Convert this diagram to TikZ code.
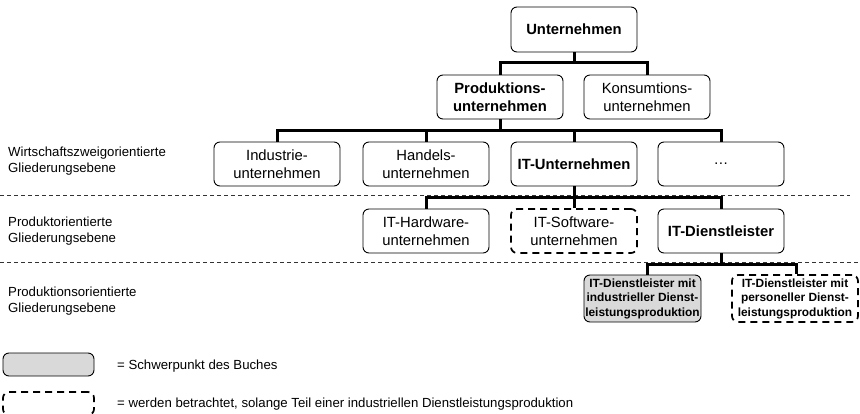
\documentclass[tikz,border=0pt]{standalone}
\usepackage{fontspec}
\setmainfont{Liberation Sans}
\begin{document}
\begin{tikzpicture}[x=1pt,y=-1pt,
  box/.style={draw=black, line width=0.9pt, rounded corners=6pt, align=center, inner sep=0pt,
    minimum width=126pt, minimum height=44pt, font=\fontsize{14.8}{17.5}\selectfont},
  bbox/.style={box, font=\fontsize{14.8}{17.5}\selectfont\bfseries},
  dbox/.style={box, line width=1.7pt, dash pattern=on 7pt off 5pt},
  gbox/.style={box, fill=black!15},
  smallbold/.style={font=\fontsize{11.9}{14.5}\selectfont\bfseries},
  conn/.style={draw=black, line width=3pt},
  sep/.style={draw=black!80, line width=0.9pt, dash pattern=on 4pt off 3pt},
  lvl/.style={anchor=north west, inner sep=0pt, align=left, font=\fontsize{13.2}{15.3}\selectfont},
  legtext/.style={anchor=west, inner sep=0pt, font=\fontsize{13.2}{15}\selectfont}]
\useasboundingbox (0,0) rectangle (860,413);

% separators
\draw[sep] (0,195) -- (850,195);
\draw[sep] (0,262) -- (860,262);

% level labels
\node[lvl] (l1) at (8,147) {Wirtschaftszweigorientierte\\Gliederungsebene};
\node[lvl] (l2) at (8,217) {Produktorientierte\\Gliederungsebene};
\node[lvl] (l3) at (8,287) {Produktionsorientierte\\Gliederungsebene};

% nodes
\node[bbox, minimum height=45pt] (U) at (574,29.5) {Unternehmen};
\node[bbox] (P) at (500,97) {Produktions-\\unternehmen};
\node[box]  (K) at (647,97) {Konsumtions-\\unternehmen};

\node[box]  (I) at (277,164) {Industrie-\\unternehmen};
\node[box]  (H) at (426,164) {Handels-\\unternehmen};
\node[bbox] (IT) at (574,164) {IT-Unternehmen};
\node[box]  (D) at (721,164) {…};

\node[box]  (HW) at (426,231) {IT-Hardware-\\unternehmen};
\node[dbox] (SW) at (574,231) {IT-Software-\\unternehmen};
\node[bbox] (DL) at (721,231) {IT-Dienstleister};

\node[gbox, smallbold, minimum width=117pt, minimum height=47pt] (G) at (642.5,298.5)
  {IT-Dienstleister mit\\industrieller Dienst-\\leistungsproduktion};
\node[dbox, smallbold, minimum height=47pt] (PS) at (795,298.5)
  {IT-Dienstleister mit\\personeller Dienst-\\leistungsproduktion};

% connectors
\coordinate (j1) at (574,62);
\coordinate (j2) at (500,130);
\coordinate (j3) at (574,197);
\coordinate (j4) at (721,264);

\draw[conn] (U.south) -- (j1);
\draw[conn] (P.north) |- (j1) -| (K.north);

\draw[conn] (P.south) -- (j2);
\draw[conn] (I.north) |- (j2) -| (D.north);
\draw[conn] (H.north) -- (H.north |- j2);
\draw[conn] (IT.north) -- (IT.north |- j2);

\draw[conn] (IT.south) -- (j3);
\draw[conn] (HW.north) |- (j3) -| (DL.north);
\draw[conn] (SW.north) -- (SW.north |- j3);

\draw[conn] (DL.south) -- (j4);
\draw[conn] ([xshift=4.5pt]G.north) |- (j4) -| ([xshift=1pt]PS.north);

% legend
\node[gbox, minimum width=91pt, minimum height=23pt] (lg1) at (48.5,364.5) {};
\node[dbox, minimum width=91pt, minimum height=23pt] (lg2) at (48.5,403.5) {};
\node[legtext] (t1) at (117,366) {= Schwerpunkt des Buches};
\node[legtext] (t2) at (117,404) {= werden betrachtet, solange Teil einer industriellen Dienstleistungsproduktion};
\end{tikzpicture}
\end{document}
